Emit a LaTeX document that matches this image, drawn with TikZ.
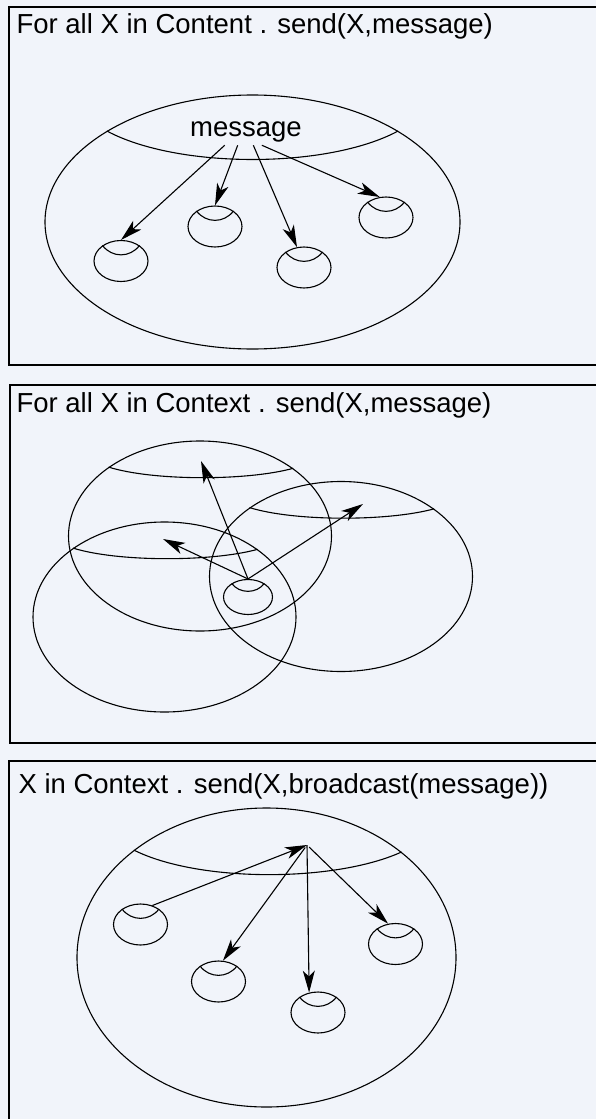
\documentclass[tikz,border=0pt]{standalone}
\usepackage{fontspec}
\setmainfont{Liberation Sans}
\usetikzlibrary{arrows.meta,shapes.geometric,calc}
\definecolor{paper}{RGB}{241,244,250}
\tikzset{
  panel/.style={line width=1.6pt},
  headline/.style={anchor=base west,inner sep=0pt,font=\fontsize{27.5}{33}\selectfont},
  world/.style={ellipse,draw,inner sep=0pt},
  agent/.style={ellipse,draw,inner sep=0pt,minimum width=54pt,minimum height=41pt},
  sendarrow/.style={-{Stealth[length=22pt,width=12pt,inset=6pt]}}
}

\begin{document}
\begin{tikzpicture}[x=1pt,y=-1pt,line width=1.1pt]
\useasboundingbox (0,0) rectangle (596,1119);
\fill[paper] (0,0) rectangle (596,1119);

% first panel
\draw[panel] (9,7) rectangle (600,365);
\node[headline] (t1) at (16,33) {For all X in Content . send(X,message)};
\node[world,minimum width=415pt,minimum height=254pt] (w1) at (252.5,222) {};
\draw (w1.148) .. controls ($(w1)+(-75,-53)$) and ($(w1)+(75,-53)$) .. (w1.32);
\node[anchor=base,inner sep=3pt,font=\fontsize{27.5}{33}\selectfont] (msg) at (246,136) {message};
\node[agent] (c1) at (121,261) {};
\node[agent] (c2) at (215,226.5) {};
\node[agent] (c3) at (304,267.5) {};
\node[agent] (c4) at (386,217.5) {};
\draw[sendarrow] (msg.213) -- (c1.north);
\draw[sendarrow] (msg.239) -- (c2.north);
\draw[sendarrow] (msg.298) -- (c3.109);
\draw[sendarrow] (msg.319) -- (c4.107);

% second panel
\draw[panel] (10,385) rectangle (600,743);
\node[headline] (t2) at (16,412) {For all X in Context . send(X,message)};
\node[world,minimum width=263pt,minimum height=190pt] (wa) at (200,536) {};
\node[world,minimum width=263pt,minimum height=190pt] (wb) at (164.5,617) {};
\node[world,minimum width=263pt,minimum height=190pt] (wc) at (341,576.5) {};
\foreach \w in {wa,wb,wc}
  \draw (\w.143.5) .. controls ($(\w)+(-47,-55)$) and ($(\w)+(47,-55)$) .. (\w.36.5);
\node[agent,minimum width=49pt,minimum height=35pt] (x1) at (248,597) {};
\coordinate (ta) at (201,461);
\coordinate (tb) at (163,539);
\coordinate (tc) at (363,504);
\draw[sendarrow] (x1.north) -- (ta);
\draw[sendarrow] (x1.north) -- (tb);
\draw[sendarrow] (x1.north) -- (tc);

% third panel
\draw[panel] (9,761) rectangle (600,1130);
\node[headline] (t3) at (18,793) {X in Context . send(X,broadcast(message))};
\node[world,minimum width=379pt,minimum height=299pt] (w3) at (266.5,957.5) {};
\draw (w3.141.9) .. controls ($(w3)+(-68,-75)$) and ($(w3)+(68,-75)$) .. (w3.38.1);
\coordinate (bc) at (307,845);
\node[agent] (d1) at (140.5,924.5) {};
\node[agent] (d2) at (218.5,981.5) {};
\node[agent] (d3) at (318,1012.5) {};
\node[agent] (d4) at (395.5,944) {};
\draw[sendarrow] (d1.58) -- (bc);
\draw[sendarrow,shorten <=3pt] (bc) -- (d2.78);
\draw[sendarrow] (bc) -- (d3.114);
\draw[sendarrow,shorten <=3pt] (bc) -- (d4.110);

% inner rims of the small ellipses
\foreach \c in {c1,c2,c3,c4,x1,d1,d2,d3,d4}
  \draw (\c.140) .. controls ($(\c)+(-9,-3)$) and ($(\c)+(9,-3)$) .. (\c.40);
\end{tikzpicture}
\end{document}
